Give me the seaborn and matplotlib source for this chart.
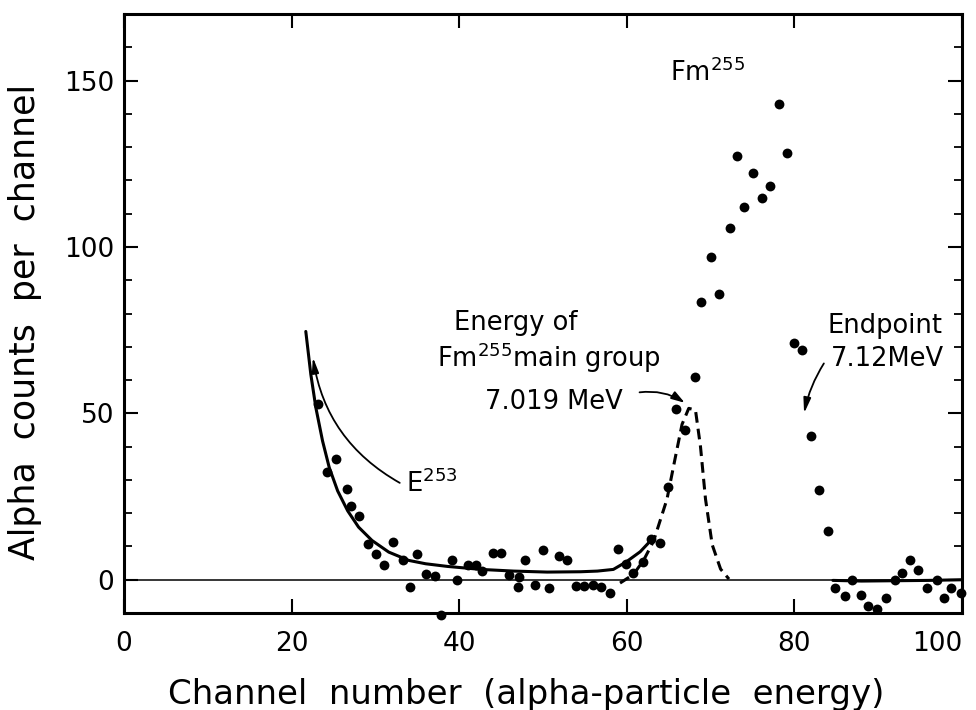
"""
Fm255 alpha spectrum — recreation of the channel-number plot.
"""

import matplotlib
matplotlib.use("Agg")
import matplotlib.pyplot as plt
from matplotlib.ticker import MultipleLocator
import seaborn as sns


# ============================================================
# data
# ============================================================

channel = [
    23.2, 24.2, 25.3, 26.6, 27.1, 28.1, 29.1, 30.1, 31.0, 32.1,
    33.3, 34.1, 35.0, 36.1, 37.1, 37.8, 39.1, 39.8, 41.0, 42.0,
    42.7, 44.0, 45.0, 46.0, 47.0, 47.2, 47.8, 49.0, 50.0, 50.7,
    51.9, 52.9, 53.9, 54.9, 56.0, 56.9, 58.0, 58.9, 59.9, 60.8,
    61.9, 62.9, 64.0, 64.9, 65.9, 67.0, 68.2, 68.9, 70.1, 71.0,
    72.3, 73.2, 74.0, 75.1, 76.1, 77.1, 78.2, 79.1, 79.9, 80.9,
    82.0, 82.9, 84.0, 84.9, 86.0, 86.9, 87.9, 88.8, 89.9, 90.9,
    92.0, 92.8, 93.8, 94.8, 95.8, 97.0, 97.9, 98.7, 99.9,
]
counts = [
    52.9, 32.4, 36.2, 27.2, 22.1, 19.3, 10.8, 7.8, 4.3, 11.3,
    5.8, -2.2, 7.8, 1.8, 1.0, -10.5, 6.0, 0.0, 4.3, 4.3,
    2.5, 8.0, 8.0, 1.3, -2.2, 0.8, 6.0, -1.7, 8.8, -2.5,
    7.0, 5.8, -2.0, -2.0, -1.5, -2.2, -4.0, 9.1, 4.6, 2.1,
    5.3, 12.3, 11.0, 28.0, 51.2, 45.1, 60.8, 83.4, 97.1, 86.0,
    105.6, 127.3, 111.9, 122.1, 114.7, 118.2, 143.1, 128.2, 71.2, 69.0,
    43.1, 27.1, 14.7, -2.4, -5.0, -0.2, -4.7, -8.0, -8.9, -5.4,
    -0.2, 2.1, 5.8, 3.0, -2.4, -0.2, -5.4, -2.4, -3.9,
]

# E253 tail + background (solid)
e253_x = [21.7, 22.3, 22.9, 23.7, 24.5, 25.5, 26.7, 28.0, 29.6, 31.6,
          34.0, 36.0, 38.6, 42.6, 46.5, 50.5, 54.5, 56.5, 58.4, 59.9,
          61.6, 62.8]
e253_y = [74.6, 61.7, 51.7, 41.7, 33.7, 26.7, 20.7, 15.8, 11.8, 8.3,
          5.8, 4.8, 4.0, 3.1, 2.6, 2.3, 2.4, 2.6, 3.1, 5.3,
          8.4, 11.6]

# Fm255 main group (dashed)
main_x = [59.2, 60.8, 62.0, 63.2, 64.8, 65.8, 66.6, 67.4, 68.2, 68.8,
          69.4, 70.2, 71.2, 72.2]
main_y = [-1.0, 1.6, 5.8, 11.6, 24.2, 36.8, 46.7, 51.5, 51.0, 40.0,
          24.2, 10.5, 3.2, 0.2]

# background beyond the endpoint (solid)
tail_x = [84.6, 88.0, 92.0, 96.0, 100.0]
tail_y = [-0.2, -0.4, -0.3, -0.2, 0.0]

x_ticks = [0, 20, 40, 60, 80, 100]
y_ticks = [0, 50, 100, 150]


# ============================================================
# plot
# ============================================================

sns.set_style("ticks")
plt.rcParams.update({
    "font.family": ["DejaVu Sans"],
    "mathtext.fontset": "dejavusans",
    "text.color": "black",
    "axes.labelcolor": "black",
    "xtick.color": "black",
    "ytick.color": "black",
})

fig = plt.figure(figsize=(9.76, 7.10), dpi=100)
ax = fig.add_axes([0.127, 0.1366, 0.8586, 0.8437])

ax.axhline(0, color="black", linewidth=1.1, zorder=1)

sns.lineplot(x=e253_x, y=e253_y, color="black", linewidth=2.2,
             estimator=None, ax=ax)
sns.lineplot(x=main_x, y=main_y, color="black", linewidth=2.2,
             linestyle=(0, (3.5, 2)), estimator=None, ax=ax)
sns.lineplot(x=tail_x, y=tail_y, color="black", linewidth=2.2,
             estimator=None, ax=ax)
sns.scatterplot(x=channel, y=counts, color="black", s=50,
                linewidth=0, ax=ax, zorder=5, clip_on=False)

ax.set_xlim(0, 100)
ax.set_ylim(-10, 170)
ax.set_xticks(x_ticks)
ax.set_yticks(y_ticks)
ax.yaxis.set_minor_locator(MultipleLocator(10))

for side in ax.spines.values():
    side.set_linewidth(2.2)
    side.set_color("black")

ax.tick_params(axis="both", which="both", direction="in",
               top=True, right=True, color="black")
ax.tick_params(axis="x", which="major", length=10, width=1.5,
               labelsize=19, pad=13)
ax.tick_params(axis="y", which="major", length=10, width=1.5,
               labelsize=19, pad=7)
ax.tick_params(axis="y", which="minor", length=6, width=1.3)

# last x label sits inside the figure like in the original
ax.get_xticklabels()[-1].set_horizontalalignment("right")

ax.set_xlabel("Channel  number  (alpha-particle  energy)", fontsize=24.5)
ax.set_ylabel("Alpha  counts  per  channel", fontsize=25)
ax.xaxis.set_label_coords(0.48, -0.108)
ax.yaxis.set_label_coords(-0.098, 0.486)

# ============================================================
# annotations
# ============================================================

txt = dict(fontsize=18.5, color="black")

ax.text(65.2, 150, "Fm$^{255}$", ha="left", va="baseline", **txt)

ax.text(39.4, 75.1, "Energy of", ha="left", va="baseline", **txt)
ax.text(37.4, 63.8, "Fm$^{255}$main group", ha="left", va="baseline", **txt)
ax.text(43.1, 51.2, "7.019 MeV", ha="left", va="baseline", **txt)
ax.annotate("", xy=(67.2, 52.7), xytext=(61.2, 56.2),
            arrowprops=dict(arrowstyle="-|>,head_length=0.8,head_width=0.25",
                            color="black", lw=1.3,
                            connectionstyle="arc3,rad=-0.2"))

ax.text(33.6, 26.3, "E$^{253}$", ha="left", va="baseline", **txt)
ax.annotate("", xy=(22.5, 67.7), xytext=(33.2, 28.7),
            arrowprops=dict(arrowstyle="-|>,head_length=0.9,head_width=0.2",
                            color="black", lw=1.3,
                            connectionstyle="arc3,rad=-0.25"))

ax.text(83.9, 74.1, "Endpoint", ha="left", va="baseline", **txt)
ax.text(84.3, 64.1, "7.12MeV", ha="left", va="baseline", **txt)
ax.annotate("", xy=(81.1, 49.2), xytext=(83.7, 65.7),
            arrowprops=dict(arrowstyle="-|>,head_length=0.9,head_width=0.22",
                            color="black", lw=1.3,
                            connectionstyle="arc3,rad=0.1"))

fig.savefig("out.png", dpi=100)
